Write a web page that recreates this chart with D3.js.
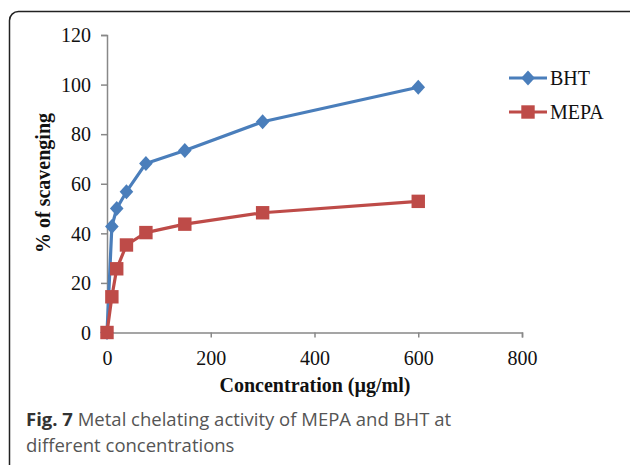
<!DOCTYPE html>
<html><head><meta charset="utf-8">
<script src="https://cdn.jsdelivr.net/npm/d3@7"></script>
<style>body{margin:0;background:#fff}svg{display:block}</style>
</head><body>
<svg id="c" width="630" height="465"></svg>
<script>
const concentrations = [0, 9.375, 18.75, 37.5, 75, 150, 300, 600];
const bhtValues = [0, 42.8, 50.0, 56.8, 68.2, 73.4, 85.0, 98.9];
const mepaValues = [0, 14.4, 25.7, 35.3, 40.3, 43.7, 48.3, 52.9];
const seriesNames = ["BHT", "MEPA"];
const xTicks = [0, 200, 400, 600, 800];
const yTicks = [0, 20, 40, 60, 80, 100, 120];

const svg = d3.select("#c");
// frame
svg.append("rect").attr("x", 9.5).attr("y", 11.5).attr("width", 640).attr("height", 480)
  .attr("rx", 9).attr("fill", "none").attr("stroke", "#222").attr("stroke-width", 1.5);

const x = d3.scaleLinear().domain([0, 800]).range([107, 522]);
const y = d3.scaleLinear().domain([0, 120]).range([332.5, 35]);

const axisColor = "#888";
const gx = svg.append("g").attr("transform", "translate(0,332.5)")
  .call(d3.axisBottom(x).tickValues(xTicks).tickSize(5).tickPadding(10).tickFormat(d3.format("d")));
const gy = svg.append("g").attr("transform", "translate(107,0)")
  .call(d3.axisLeft(y).tickValues(yTicks).tickSize(6).tickPadding(10).tickFormat(d3.format("d")));
[gx, gy].forEach(g => {
  g.select(".domain").attr("stroke", axisColor).attr("stroke-width", 1.5);
  g.selectAll(".tick line").attr("stroke", axisColor).attr("stroke-width", 1.5);
  g.selectAll(".tick text").attr("font-family", "Liberation Serif, Times New Roman, serif")
    .attr("font-size", 20).attr("fill", "#111");
});
gy.selectAll(".tick text").attr("dy", "0.34em");
gx.selectAll(".tick text").attr("dy", "0.85em");

// axis titles
svg.append("text").attr("x", 315).attr("y", 392).attr("text-anchor", "middle")
  .attr("font-family", "Liberation Serif, Times New Roman, serif").attr("font-weight", "bold")
  .attr("font-size", 20).attr("fill", "#111").text("Concentration (µg/ml)");
svg.append("text").attr("transform", "translate(50,183) rotate(-90)").attr("text-anchor", "middle")
  .attr("font-family", "Liberation Serif, Times New Roman, serif").attr("font-weight", "bold")
  .attr("font-size", 20).attr("fill", "#111").text("% of scavenging");

const colors = ["#4a7ebb", "#be4b48"];
const data = [bhtValues, mepaValues].map((vals, i) => ({
  name: seriesNames[i], color: colors[i],
  pts: concentrations.map((c, j) => ({ c, v: vals[j] }))
}));
const line = d3.line().x(d => x(d.c)).y(d => y(d.v));
const diamondPath = "M0,-7.5L6.8,0L0,7.5L-6.8,0Z";
const square = d3.symbol().type(d3.symbolSquare).size(180);

data.forEach((s, i) => {
  svg.append("path").datum(s.pts).attr("d", line).attr("fill", "none")
    .attr("stroke", s.color).attr("stroke-width", 3.2).attr("stroke-linejoin", "round");
  svg.append("g").selectAll("path").data(s.pts).join("path")
    .attr("transform", d => `translate(${x(d.c)},${y(d.v)})`)
    .attr("d", i === 0 ? diamondPath : square).attr("fill", s.color);
});

// legend
data.forEach((s, i) => {
  const ly = 78 + i * 34;
  const g = svg.append("g");
  g.append("line").attr("x1", 509).attr("x2", 547).attr("y1", ly).attr("y2", ly)
    .attr("stroke", s.color).attr("stroke-width", 3.2);
  g.append("path").attr("transform", `translate(528,${ly})`)
    .attr("d", i === 0 ? diamondPath : square).attr("fill", s.color);
  g.append("text").attr("x", 550).attr("y", ly).attr("dy", "0.35em")
    .attr("font-family", "Liberation Serif, Times New Roman, serif").attr("font-size", 20)
    .attr("fill", "#111").text(s.name);
});

// caption
const cap = svg.append("text").attr("x", 26).attr("y", 426)
  .attr("font-family", "Open Sans, sans-serif").attr("font-size", 18.5).attr("fill", "#555");
cap.append("tspan").attr("font-weight", "bold").attr("fill", "#333").text("Fig. 7");
cap.append("tspan").text(" Metal chelating activity of MEPA and BHT at");
svg.append("text").attr("x", 26).attr("y", 452)
  .attr("font-family", "Open Sans, sans-serif").attr("font-size", 18.5).attr("fill", "#555")
  .text("different concentrations");
</script>
</body></html>
